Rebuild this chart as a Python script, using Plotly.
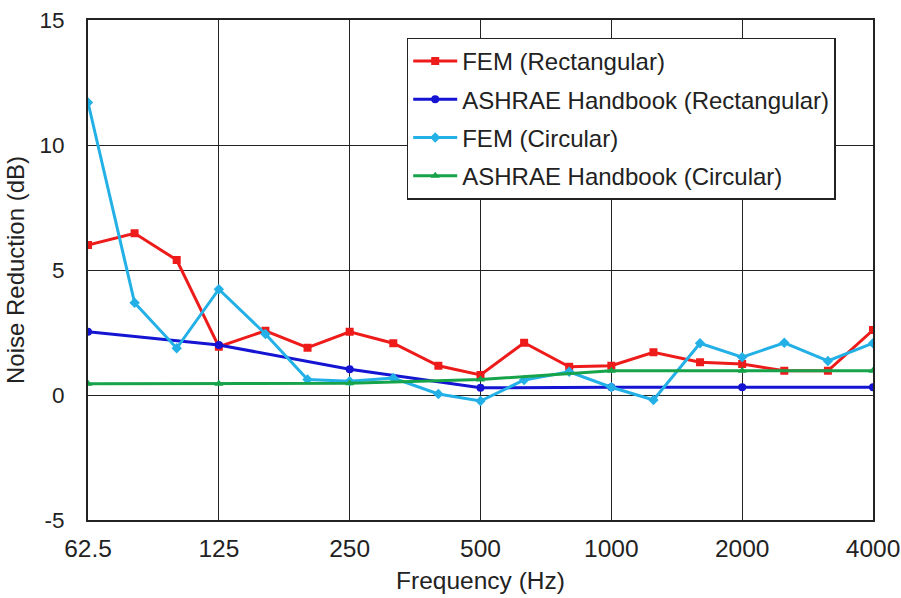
import plotly.graph_objects as go

# One-third octave band centre frequencies (Hz)
freq_third = [62.5, 80, 100, 125, 160, 200, 250, 315, 400, 500, 630,
              800, 1000, 1250, 1600, 2000, 2500, 3150, 4000]
# Octave band centre frequencies (Hz)
freq_octave = [62.5, 125, 250, 500, 1000, 2000, 4000]

fem_rect = [6.0, 6.47, 5.4, 1.93, 2.57, 1.89, 2.53, 2.07, 1.17, 0.8, 2.09,
            1.13, 1.17, 1.71, 1.31, 1.24, 0.97, 0.97, 2.6]
fem_circ = [11.7, 3.69, 1.87, 4.23, 2.44, 0.62, 0.55, 0.68, 0.04, -0.24, 0.6,
            0.93, 0.31, -0.2, 2.07, 1.51, 2.09, 1.36, 2.07]
ashrae_rect = [2.53, 2.0, 1.03, 0.29, 0.31, 0.31, 0.31]
ashrae_circ = [0.45, 0.45, 0.47, 0.62, 0.97, 0.97, 0.97]

x_tick_vals = [62.5, 125, 250, 500, 1000, 2000, 4000]
x_tick_text = ["62.5", "125", "250", "500", "1000", "2000", "4000"]
y_tick_vals = [-5, 0, 5, 10, 15]
y_tick_text = ["-5", "0", "5", "10", "15"]

FONT = "Liberation Sans, Arial, sans-serif"

series = [
    (freq_third, fem_rect, "FEM (Rectangular)", "#EE1B1B", "square"),
    (freq_octave, ashrae_rect, "ASHRAE Handbook (Rectangular)", "#1414D2", "circle"),
    (freq_third, fem_circ, "FEM (Circular)", "#23B0E6", "diamond"),
    (freq_octave, ashrae_circ, "ASHRAE Handbook (Circular)", "#17A34A", "triangle-up"),
]

fig = go.Figure()
for i, (xs, ys, name, color, symbol) in enumerate(series):
    fig.add_trace(go.Scatter(
        x=xs, y=ys, name=name, mode="lines+markers", legendgroup=f"g{i}",
        line=dict(color=color, width=3),
        marker=dict(symbol=symbol, size=8, color=color)))

fig.update_layout(
    width=901, height=598,
    margin=dict(l=88, r=28, t=20, b=78),
    paper_bgcolor="white", plot_bgcolor="white",
    font=dict(family=FONT, size=23, color="#222"),
    legend=dict(
        x=0.406, y=0.965, xanchor="left", yanchor="top",
        bgcolor="white", bordercolor="#222", borderwidth=1.5,
        font=dict(family=FONT, size=24, color="#222"),
        itemwidth=44, tracegroupgap=4,
    ),
)
fig.update_xaxes(
    type="log", range=[1.79588, 3.60206], automargin=False,
    tickvals=x_tick_vals, ticktext=x_tick_text, tickfont=dict(size=24.5),
    showgrid=True, gridcolor="#222", gridwidth=1.3,
    showline=True, linecolor="#222", linewidth=2, mirror=True,
    ticks="", ticklabelstandoff=6,
    title=dict(text="Frequency (Hz)", font=dict(size=24.5), standoff=10),
    zeroline=False,
)
fig.update_yaxes(
    range=[-5, 15], automargin=False,
    tickvals=y_tick_vals, ticktext=y_tick_text, tickfont=dict(size=22.5),
    showgrid=True, gridcolor="#222", gridwidth=1.3,
    showline=True, linecolor="#222", linewidth=2, mirror=True,
    ticks="", ticklabelstandoff=17,
    title=dict(text="Noise Reduction (dB)", font=dict(size=24), standoff=8),
    zeroline=False,
)

fig.write_html("out.html")
